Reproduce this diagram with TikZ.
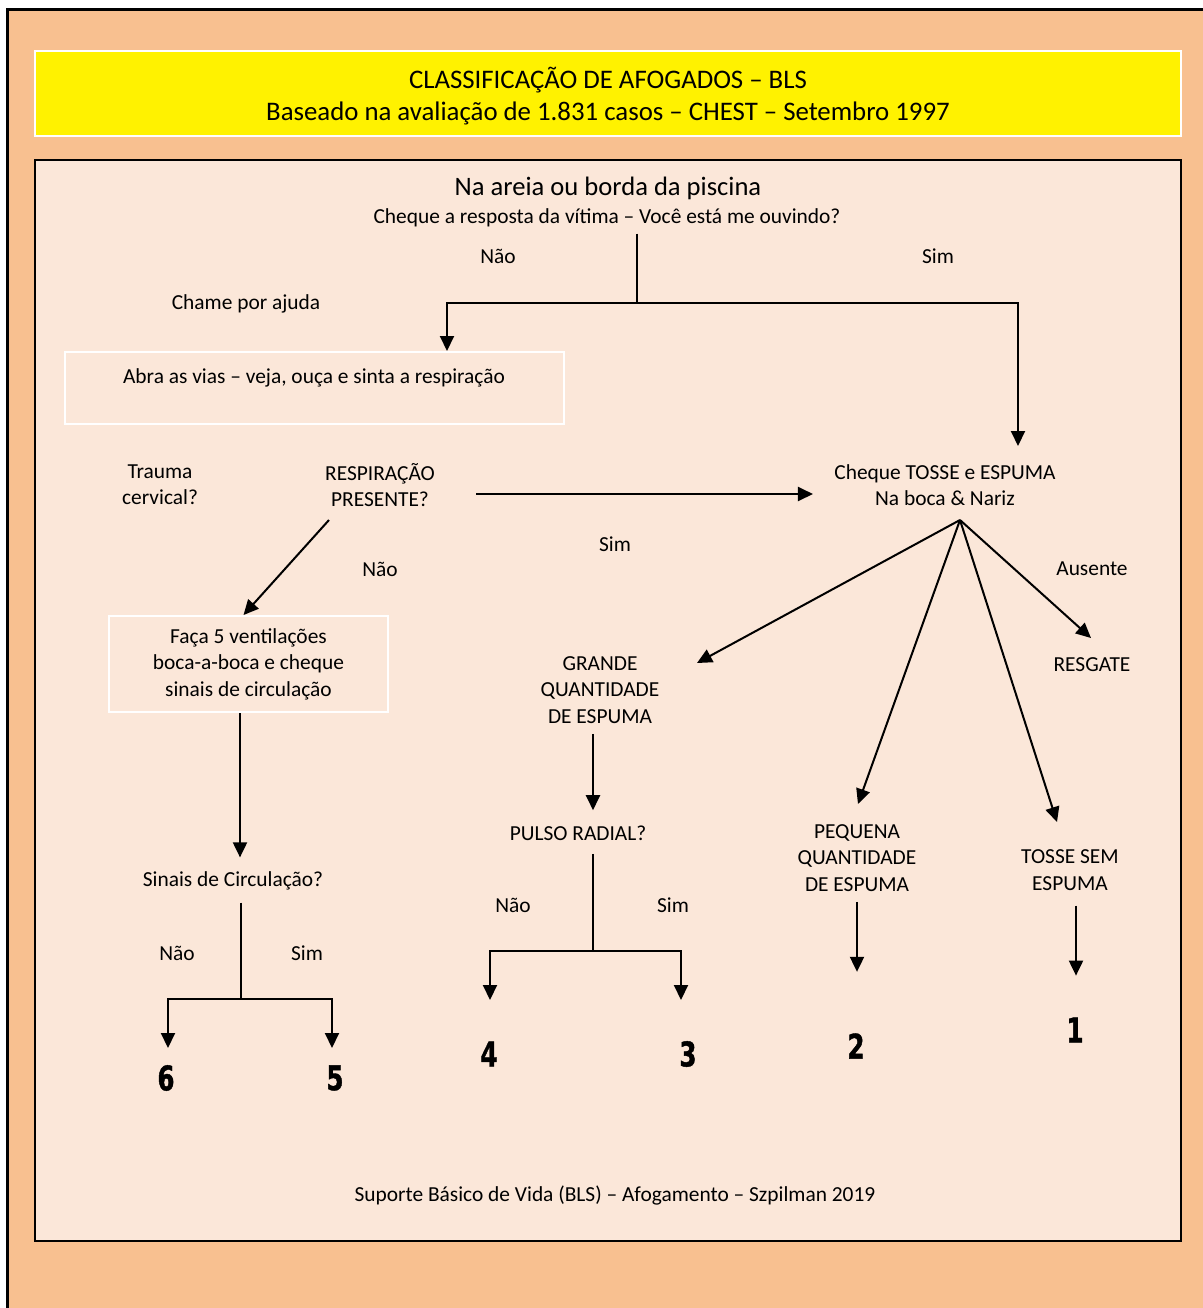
\documentclass[tikz,border=0pt]{standalone}
\usepackage{fontspec}
\setmainfont{Carlito}
\newfontfamily\numfont[FakeStretch=0.72,FakeBold=1.2]{DejaVu Sans Bold}
\usetikzlibrary{arrows.meta}
\definecolor{sand}{RGB}{248,192,144}
\definecolor{shell}{RGB}{251,231,217}
\tikzset{
  txt/.style={align=center, inner sep=0pt, font=\fontsize{10.7}{13.2}\selectfont},
  num/.style={inner sep=0pt, font=\numfont\fontsize{17}{17}\selectfont},
  link/.style={line width=1pt},
  flow/.style={line width=1pt, -{Triangle[length=7.5pt,width=7pt]}},
  panel/.style={draw=white, line width=1pt, align=center, inner sep=0pt, font=\fontsize{10.7}{13.2}\selectfont},
}
\begin{document}
\begin{tikzpicture}[x=0.5pt,y=-0.5pt]
  \useasboundingbox (0,0) rectangle (1203,1308);
  \clip (0,0) rectangle (1203,1308);
  % frame, title bar and sheet
  \draw[fill=sand, line width=1.5pt] (7,9) rectangle (1240,1340);
  \draw[fill=yellow, draw=white, line width=1pt] (35,51) rectangle (1181,136);
  \draw[fill=shell, line width=1pt] (35,160) rectangle (1181,1241);
  \node[txt, font=\fontsize{13.4}{16}\selectfont] (title) at (608,96)
    {CLASSIFICAÇÃO DE AFOGADOS – BLS\\Baseado na avaliação de 1.831 casos – CHEST – Setembro 1997};

  % first check
  \node[txt, font=\fontsize{13.3}{13}\selectfont] (areia) at (608,188) {Na areia ou borda da piscina};
  \node[txt] (cheque) at (607,218) {Cheque a resposta da vítima – Você está me ouvindo?};
  \node[txt] (nao1) at (498,256) {Não};
  \node[txt] (sim1) at (938,256) {Sim};
  \node[txt] (ajuda) at (246,304) {Chame por ajuda};
  \node[panel, minimum width=249.5pt, minimum height=36pt] (abra) at (314.5,388) {};
  \node[txt] (abratxt) at (314,378) {Abra as vias – veja, ouça e sinta a respiração};
  \coordinate (fork) at (637,303);
  \draw[link] ([yshift=-3pt]cheque.south -| fork) -- (fork);
  \draw[flow] (fork) -| (abra.north -| 447,0);
  \draw[flow] (fork) -| (1018,446);

  % breathing
  \node[txt] (trauma) at (160,485) {Trauma\\cervical?};
  \node[txt] (resp) at (380,485) {RESPIRAÇÃO\\PRESENTE?};
  \node[txt] (tosse) at (945,485) {Cheque TOSSE e ESPUMA\\Na boca \& Nariz};
  \node[txt] (sim2) at (615,544) {Sim};
  \node[txt] (nao2) at (380,569) {Não};
  \draw[flow, shorten <=20.5pt, shorten >=10.5pt] ([yshift=-4.5pt]resp.east) -- ([yshift=-4.5pt]tosse.west);
  \coordinate (respout) at (329,520);
  \node[panel, minimum width=139.5pt, minimum height=48pt] (faca) at (248.5,664)
    {Faça 5 ventilações\\boca-a-boca e cheque\\sinais de circulação};
  \draw[flow] (respout) -- ([xshift=-2.5pt]faca.north);

  % circulation
  \node[txt] (sinais) at (233,881) {Sinais de Circulação?};
  \node[txt] (nao3) at (177,953) {Não};
  \node[txt] (sim3) at (307,953) {Sim};
  \node[num] (n6) at (166,1078) {6};
  \node[num] (n5) at (335,1078) {5};
  \draw[flow, shorten >=7pt] (faca.south -| 240,0) -- (sinais.north -| 240,0);
  \coordinate (sfork) at (241,999);
  \draw[link, shorten <=6pt] (sinais.south -| sfork) -- (sfork);
  \draw[flow] (sfork) -| (168,1048);
  \draw[flow] (sfork) -| (332,1048);

  % cough and foam
  \coordinate (apex) at (960,520);
  \node[txt] (grande) at (600,690) {GRANDE\\QUANTIDADE\\DE ESPUMA};
  \node[txt] (pequena) at (857,858) {PEQUENA\\QUANTIDADE\\DE ESPUMA};
  \node[txt] (semesp) at (1070,870) {TOSSE SEM\\ESPUMA};
  \node[txt] (ausente) at (1092,569) {Ausente};
  \node[txt] (resgate) at (1092,665) {RESGATE};
  \draw[flow] (apex) -- (697,663);
  \draw[flow] (apex) -- (858,804);
  \draw[flow] (apex) -- (1057,822);
  \draw[flow] (apex) -- (1091,638);

  % radial pulse
  \node[txt] (pulso) at (578,833) {PULSO RADIAL?};
  \node[txt] (nao4) at (513,905) {Não};
  \node[txt] (sim4) at (673,905) {Sim};
  \node[num] (n4) at (489,1054) {4};
  \node[num] (n3) at (688,1054) {3};
  \draw[flow, shorten <=5pt, shorten >=7.5pt] (grande.south -| 593,0) -- (pulso.north -| 593,0);
  \coordinate (pfork) at (593,951);
  \draw[link, shorten <=6.5pt] (pulso.south -| pfork) -- (pfork);
  \draw[flow] (pfork) -| (490,1000);
  \draw[flow] (pfork) -| (681,1000);

  % outcomes 2 and 1
  \node[num] (n2) at (856,1046) {2};
  \node[num] (n1) at (1075,1030) {1};
  \draw[flow] ([yshift=-5pt]pequena.south) -- ++(0,70);
  \draw[flow] ([yshift=-7.5pt]semesp.south -| 1076,0) -- ++(0,70);

  \node[txt] (rodape) at (615,1195) {Suporte Básico de Vida (BLS) – Afogamento – Szpilman 2019};
\end{tikzpicture}
\end{document}
